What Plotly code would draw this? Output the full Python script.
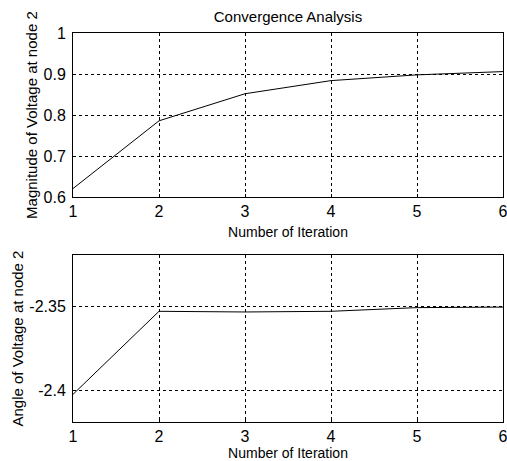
import plotly.graph_objects as go

iterations = [1, 2, 3, 4, 5, 6]
magnitude = [0.621, 0.786, 0.852, 0.884, 0.898, 0.906]
angle = [-2.4025, -2.353, -2.3534, -2.353, -2.3508, -2.3505]
x_ticks = [1, 2, 3, 4, 5, 6]
mag_ticks = [0.6, 0.7, 0.8, 0.9, 1.0]
mag_labels = ["0.6", "0.7", "0.8", "0.9", "1"]
ang_ticks = [-2.4, -2.35]
ang_labels = ["-2.4", "-2.35"]

fig = go.Figure()
fig.add_trace(go.Scatter(x=iterations, y=magnitude, mode="lines",
                         line=dict(color="black", width=1), xaxis="x", yaxis="y"))
fig.add_trace(go.Scatter(x=iterations, y=angle, mode="lines",
                         line=dict(color="black", width=1), xaxis="x2", yaxis="y2"))

font = "Liberation Sans, Arial, sans-serif"
axis_common = dict(showline=True, linecolor="black", linewidth=1, mirror=True,
                   showgrid=True, gridcolor="black", gridwidth=1, griddash="3px,3px",
                   zeroline=False, ticks="inside", ticklen=3, tickcolor="black",
                   automargin=False, ticklabeloverflow="allow",
                   tickfont=dict(family=font, size=16, color="black"))

fig.update_layout(
    width=507, height=461,
    margin=dict(l=73, r=4, t=33, b=39),
    paper_bgcolor="white", plot_bgcolor="white",
    showlegend=False,
    font=dict(family=font, color="black"),
    title=dict(text="Convergence Analysis", x=0.5, xanchor="center", xref="paper",
               y=1 - 17 / 461, yanchor="middle", font=dict(size=15, family=font)),
    xaxis=dict(domain=[0, 1], anchor="y", range=[1, 6], tickvals=x_ticks,
               title=dict(text="Number of Iteration", font=dict(size=14), standoff=7),
               **axis_common),
    yaxis=dict(domain=[0.578, 1.0], anchor="x", range=[0.6, 1.0], tickvals=mag_ticks,
               ticktext=mag_labels, ticklabelstandoff=3,
               title=dict(text="Magnitude of Voltage at node 2", font=dict(size=15), standoff=2),
               **axis_common),
    xaxis2=dict(domain=[0, 1], anchor="y2", range=[1, 6], tickvals=x_ticks,
                title=dict(text="Number of Iteration", font=dict(size=14), standoff=7),
                **axis_common),
    yaxis2=dict(domain=[0, 0.429], anchor="x2", range=[-2.419, -2.3195], tickvals=ang_ticks,
                ticktext=ang_labels, ticklabelstandoff=3,
                title=dict(text="Angle of Voltage at node 2", font=dict(size=15), standoff=2),
                **axis_common),
)

fig.write_html("out.html", config={"displayModeBar": False},
               post_script="document.body.style.margin='0';document.body.style.overflow='hidden';")
